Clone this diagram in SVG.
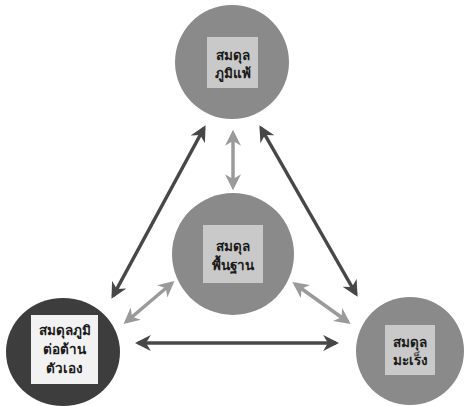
<svg xmlns="http://www.w3.org/2000/svg" width="466" height="406" viewBox="0 0 466 406">
  <defs>
    <style>
      .node { fill: #8a8a8a; }
      .node-dark { fill: #3d3d3d; }
      .box { fill: #c9c9c9; }
      .box-light { fill: #f2f2f2; }
      .label { font-family: "Noto Sans", "DejaVu Sans", "Liberation Sans", sans-serif; font-size: 13.5px; font-weight: bold; fill: #1a1a1a; text-anchor: middle; }
      .outer { stroke: #474747; stroke-width: 3.5; fill: none; marker-start: url(#headDark); marker-end: url(#headDark); }
      .inner { stroke: #9a9a9a; stroke-width: 3.5; fill: none; marker-start: url(#headLight); marker-end: url(#headLight); }
    </style>
    <marker id="headDark" viewBox="0 0 10 10" refX="8" refY="5" markerWidth="4.6" markerHeight="4.6" orient="auto-start-reverse" markerUnits="strokeWidth">
      <path d="M0,0 L10,5 L0,10 L3,5 Z" fill="#474747"/>
    </marker>
    <marker id="headLight" viewBox="0 0 10 10" refX="8" refY="5" markerWidth="4.6" markerHeight="4.6" orient="auto-start-reverse" markerUnits="strokeWidth">
      <path d="M0,0 L10,5 L0,10 L3,5 Z" fill="#9a9a9a"/>
    </marker>
  </defs>

  <rect width="466" height="406" fill="#ffffff"/>

  <!-- connectors -->
  <g id="connectors">
    <line class="outer" x1="113" y1="296" x2="204" y2="128"/>
    <line class="outer" x1="261" y1="128" x2="356" y2="294"/>
    <line class="outer" x1="138" y1="343" x2="336" y2="343"/>
    <line class="inner" x1="233" y1="133" x2="233" y2="187"/>
    <line class="inner" x1="126" y1="322" x2="172" y2="283"/>
    <line class="inner" x1="295" y1="284" x2="348" y2="322"/>
  </g>

  <!-- top: allergy balance -->
  <g id="node-allergy">
    <circle class="node" cx="232" cy="62" r="57"/>
    <rect class="box" x="207" y="37" width="51" height="51"/>
    <text class="label" x="232.5" y="60">สมดุล</text>
    <text class="label" x="232.5" y="78">ภูมิแพ้</text>
  </g>

  <!-- centre: base balance -->
  <g id="node-base">
    <circle class="node" cx="233" cy="254" r="61"/>
    <rect class="box" x="203" y="225" width="60" height="58"/>
    <text class="label" x="233" y="251">สมดุล</text>
    <text class="label" x="233" y="270">พื้นฐาน</text>
  </g>

  <!-- bottom left: autoimmune balance -->
  <g id="node-autoimmune">
    <ellipse class="node-dark" cx="63" cy="352" rx="57" ry="54"/>
    <rect class="box-light" x="31" y="315" width="67" height="69"/>
    <text class="label" x="64.5" y="335">สมดุลภูมิ</text>
    <text class="label" x="64.5" y="354">ต่อต้าน</text>
    <text class="label" x="64.5" y="373">ตัวเอง</text>
  </g>

  <!-- bottom right: cancer balance -->
  <g id="node-cancer">
    <circle class="node" cx="410" cy="351" r="54"/>
    <rect class="box" x="385" y="325" width="50" height="50"/>
    <text class="label" x="410" y="347">สมดุล</text>
    <text class="label" x="410" y="365">มะเร็ง</text>
  </g>
</svg>
